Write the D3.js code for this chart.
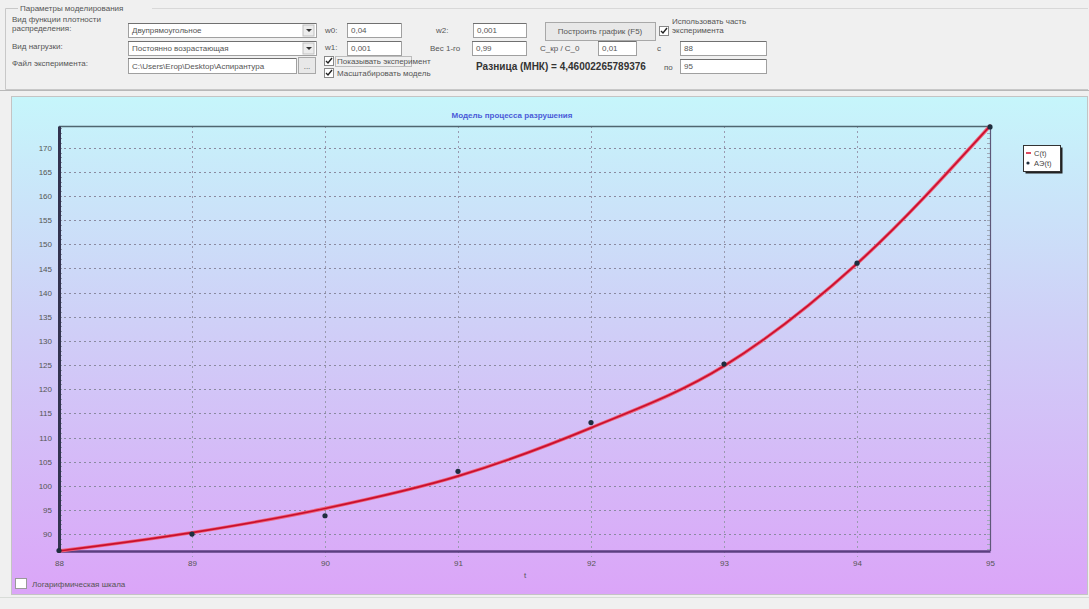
<!DOCTYPE html>
<html>
<head>
<meta charset="utf-8">
<script src="https://cdn.jsdelivr.net/npm/d3@7"></script>
<style>
  html, body { margin: 0; padding: 0; background: #f0f0f0; }
  svg { display: block; font-family: "Liberation Sans", "DejaVu Sans", sans-serif; }
</style>
</head>
<body>
<svg id="app" width="1089" height="609"></svg>
<script>
// --- data --------------------------------------------------------------
const timeSteps = [88, 89, 90, 91, 92, 93, 94, 95];
// model curve C(t)
const modelC = [86.5, 90.3, 95.3, 102.0, 112.0, 124.8, 146.0, 174.5];
// experiment АЭ(t)
const experimentAE = [86.6, 90.0, 93.8, 103.0, 113.1, 125.2, 146.1, 174.3];
const yTickValues = [90, 95, 100, 105, 110, 115, 120, 125, 130, 135, 140, 145, 150, 155, 160, 165, 170];
const xTickValues = [88, 89, 90, 91, 92, 93, 94, 95];
const chartTitle = "Модель процесса разрушения";
const legendLabels = ["C(t)", "AЭ(t)"];

const svg = d3.select("#app");

// --- control panel -----------------------------------------------------
const ui = svg.append("g").attr("font-size", 8).attr("fill", "#555");

ui.append("rect").attr("x", 0).attr("y", 0).attr("width", 1089).attr("height", 609).attr("fill", "#f0f0f0");

// group box
ui.append("path")
  .attr("d", "M18,8.5 H5.5 V89.5 H1088")
  .attr("fill", "none").attr("stroke", "#c8c8c8");
ui.append("path")
  .attr("d", "M152,8.5 H1088")
  .attr("fill", "none").attr("stroke", "#d8d8d8");
ui.append("text").attr("x", 20).attr("y", 11).text("Параметры моделирования");
ui.append("line").attr("x1", 0).attr("x2", 1089).attr("y1", 90.5).attr("y2", 90.5).attr("stroke", "#b8b8b8");

function textBox(x, y, w, h, txt) {
  const g = ui.append("g");
  g.append("rect").attr("x", x + 0.5).attr("y", y + 0.5).attr("width", w).attr("height", h)
    .attr("fill", "#fff").attr("stroke", "#a0a0a0");
  g.append("line").attr("x1", x).attr("x2", x + w).attr("y1", y + 0.5).attr("y2", y + 0.5).attr("stroke", "#707070");
  if (txt) g.append("text").attr("x", x + 4).attr("y", y + h / 2 + 3).text(txt);
  return g;
}
function combo(x, y, w, h, txt) {
  const g = textBox(x, y, w, h, txt);
  g.append("rect").attr("x", x + w - 13).attr("y", y + 2).attr("width", 11).attr("height", h - 3)
    .attr("fill", "#ececec").attr("stroke", "#c0c0c0");
  g.append("path").attr("d", `M${x + w - 10},${y + h / 2 - 1} h6 l-3,3 z`).attr("fill", "#333");
}
function checkbox(x, y, checked) {
  ui.append("rect").attr("x", x + 0.5).attr("y", y + 0.5).attr("width", 9).attr("height", 9)
    .attr("fill", "#fff").attr("stroke", "#888");
  if (checked) ui.append("path").attr("d", `M${x + 2},${y + 5} l2,2 l4,-5`)
    .attr("fill", "none").attr("stroke", "#222").attr("stroke-width", 1.4);
}
function label(x, y, txt, extra) {
  const t = ui.append("text").attr("x", x).attr("y", y).text(txt);
  if (extra) extra(t);
  return t;
}

label(12, 22, "Вид функции плотности");
label(12, 31, "распределения:");
combo(128, 23, 188, 14, "Двупрямоугольное");
label(325, 33, "w0:");
textBox(347, 23, 54, 14, "0,04");
label(436, 33, "w2:");
textBox(473, 23, 53, 14, "0,001");
ui.append("rect").attr("x", 545.5).attr("y", 22.5).attr("width", 110).attr("height", 18)
  .attr("fill", "#e8e8e8").attr("stroke", "#a8a8a8");
label(600, 34, "Построить график (F5)", t => t.attr("text-anchor", "middle"));
checkbox(659, 26, true);
label(672, 24, "Использовать часть");
label(672, 33, "эксперимента");

label(12, 49, "Вид нагрузки:");
combo(128, 41, 188, 14, "Постоянно возрастающая");
label(325, 50, "w1:");
textBox(347, 41, 54, 14, "0,001");
label(430, 51, "Вес 1-го");
textBox(472, 41, 54, 14, "0,99");
label(540, 51, "C_кр / C_0");
textBox(598, 41, 38, 14, "0,01");
label(657, 51, "с");
textBox(680, 41, 86, 14, "88");

label(12, 66, "Файл эксперимента:");
textBox(128, 58, 168, 15, "C:\\Users\\Егор\\Desktop\\Аспирантура");
ui.append("rect").attr("x", 298.5).attr("y", 57.5).attr("width", 17).attr("height", 16)
  .attr("fill", "#e8e8e8").attr("stroke", "#a8a8a8");
label(307, 69, "...", t => t.attr("text-anchor", "middle"));
checkbox(324, 56, true);
ui.append("rect").attr("x", 335.5).attr("y", 56.5).attr("width", 76).attr("height", 10)
  .attr("fill", "none").attr("stroke", "#888").attr("stroke-dasharray", "1,1");
label(337, 64, "Показывать эксперимент");
checkbox(324, 68, true);
label(337, 76, "Масштабировать модель");
label(476, 70, "Разница (МНК) = 4,46002265789376", t => t.attr("font-weight", "bold").attr("font-size", 10).attr("fill", "#333"));
label(664, 70, "по");
textBox(680, 59, 86, 14, "95");

// --- chart panel -------------------------------------------------------
const defs = svg.append("defs");
const grad = defs.append("linearGradient").attr("id", "panelFill")
  .attr("x1", 0).attr("y1", 0).attr("x2", 0).attr("y2", 1);
grad.append("stop").attr("offset", "0%").attr("stop-color", "#c6f6fb");
grad.append("stop").attr("offset", "45%").attr("stop-color", "#cfd0f7");
grad.append("stop").attr("offset", "100%").attr("stop-color", "#dba5f8");

svg.append("rect").attr("x", 11.5).attr("y", 96.5).attr("width", 1076).attr("height", 498)
  .attr("fill", "url(#panelFill)").attr("stroke", "#c4c4c4");

const plot = { left: 59, right: 990, top: 126, bottom: 551 };

const x = d3.scaleLinear().domain(d3.extent(timeSteps)).range([plot.left, plot.right]);
const allValues = modelC.concat(experimentAE);
const y = d3.scaleLinear().domain(d3.extent(allValues)).range([plot.bottom, plot.top]);

const chart = svg.append("g");

// horizontal grid
chart.append("g").selectAll("line").data(yTickValues).join("line")
  .attr("x1", plot.left).attr("x2", plot.right)
  .attr("y1", d => Math.round(y(d)) + 0.5).attr("y2", d => Math.round(y(d)) + 0.5)
  .attr("stroke", "#8a8aa0").attr("stroke-dasharray", "2,3").attr("stroke-width", 1);

// vertical grid (extends slightly below the axis as tick marks)
chart.append("g").selectAll("line").data(xTickValues.slice(1, -1)).join("line")
  .attr("x1", d => Math.round(x(d)) + 0.5).attr("x2", d => Math.round(x(d)) + 0.5)
  .attr("y1", plot.top).attr("y2", plot.bottom + 6)
  .attr("stroke", "#9a9ab0").attr("stroke-dasharray", "2,3");

// minor ticks on left and right borders
const minorTicks = d3.range(87, 175, 1);
chart.append("g").selectAll("line").data(minorTicks).join("line")
  .attr("x1", plot.left).attr("x2", plot.left + 3)
  .attr("y1", d => Math.round(y(d)) + 0.5).attr("y2", d => Math.round(y(d)) + 0.5)
  .attr("stroke", "#8a96a8");
chart.append("g").selectAll("line").data(minorTicks).join("line")
  .attr("x1", plot.right - 3).attr("x2", plot.right)
  .attr("y1", d => Math.round(y(d)) + 0.5).attr("y2", d => Math.round(y(d)) + 0.5)
  .attr("stroke", "#a0aab8");

// frame
chart.append("line").attr("x1", plot.left).attr("x2", plot.right).attr("y1", plot.top + 0.5).attr("y2", plot.top + 0.5)
  .attr("stroke", "#4f6670").attr("stroke-width", 1.5);
chart.append("line").attr("x1", plot.right + 0.5).attr("x2", plot.right + 0.5).attr("y1", plot.top).attr("y2", plot.bottom)
  .attr("stroke", "#5e5878").attr("stroke-width", 1.2);

// y axis
const yAxis = d3.axisLeft(y).tickValues(yTickValues).tickSize(0).tickPadding(7).tickFormat(d3.format("d"));
const gy = chart.append("g").attr("transform", `translate(${plot.left},0)`).call(yAxis);
gy.select(".domain").attr("stroke", "#33334f").attr("stroke-width", 3);
gy.selectAll("text").attr("font-size", 8).attr("fill", "#555").attr("font-family", "Liberation Sans, sans-serif");

// x axis
const xAxis = d3.axisBottom(x).tickValues(xTickValues).tickSize(0).tickPadding(9).tickFormat(d3.format("d"));
const gx = chart.append("g").attr("transform", `translate(0,${plot.bottom})`).call(xAxis);
gx.select(".domain").attr("stroke", "#5b3f80").attr("stroke-width", 2.5);
gx.selectAll("text").attr("font-size", 8).attr("fill", "#555").attr("font-family", "Liberation Sans, sans-serif");

chart.append("text").attr("x", 525).attr("y", 578).attr("text-anchor", "middle")
  .attr("font-size", 8).attr("fill", "#555").text("t");

// title
chart.append("text").attr("x", 512).attr("y", 118).attr("text-anchor", "middle")
  .attr("font-size", 8).attr("font-weight", "bold").attr("fill", "#4a5ad8").text(chartTitle);

// model curve
const line = d3.line().x((d, i) => x(timeSteps[i])).y(d => y(d)).curve(d3.curveMonotoneX);
chart.append("path").datum(modelC).attr("d", line)
  .attr("fill", "none").attr("stroke", "#f0607a").attr("stroke-width", 3.4).attr("stroke-linecap", "round");
chart.append("path").datum(modelC).attr("d", line)
  .attr("fill", "none").attr("stroke", "#c8102e").attr("stroke-width", 1.7).attr("stroke-linecap", "round");

// experiment points
chart.append("g").selectAll("circle").data(experimentAE).join("circle")
  .attr("cx", (d, i) => x(timeSteps[i])).attr("cy", d => y(d)).attr("r", 2.6)
  .attr("fill", "#1e2e3e");

// legend
const lg = svg.append("g").attr("transform", "translate(1023,145)");
lg.append("rect").attr("x", 2.5).attr("y", 2.5).attr("width", 37).attr("height", 26).attr("fill", "#222");
lg.append("rect").attr("x", 0.5).attr("y", 0.5).attr("width", 37).attr("height", 26).attr("fill", "#fff").attr("stroke", "#333");
lg.append("line").attr("x1", 3).attr("x2", 8).attr("y1", 8).attr("y2", 8).attr("stroke", "#d0102e").attr("stroke-width", 1.5);
lg.append("circle").attr("cx", 5).attr("cy", 18).attr("r", 1.6).attr("fill", "#1e2e3e");
lg.append("text").attr("x", 11).attr("y", 10.5).attr("font-size", 7.5).attr("fill", "#444").text(legendLabels[0]);
lg.append("text").attr("x", 11).attr("y", 20.5).attr("font-size", 7.5).attr("fill", "#444").text(legendLabels[1]);

// log-scale checkbox
svg.append("rect").attr("x", 15.5).attr("y", 578.5).attr("width", 11).attr("height", 10)
  .attr("fill", "#fff").attr("stroke", "#999");
svg.append("text").attr("x", 32).attr("y", 587).attr("font-size", 8).attr("fill", "#555").text("Логарифмическая шкала");

// bottom status strip
svg.append("line").attr("x1", 0).attr("x2", 1089).attr("y1", 597.5).attr("y2", 597.5).attr("stroke", "#d8dcd8");
</script>
</body>
</html>
